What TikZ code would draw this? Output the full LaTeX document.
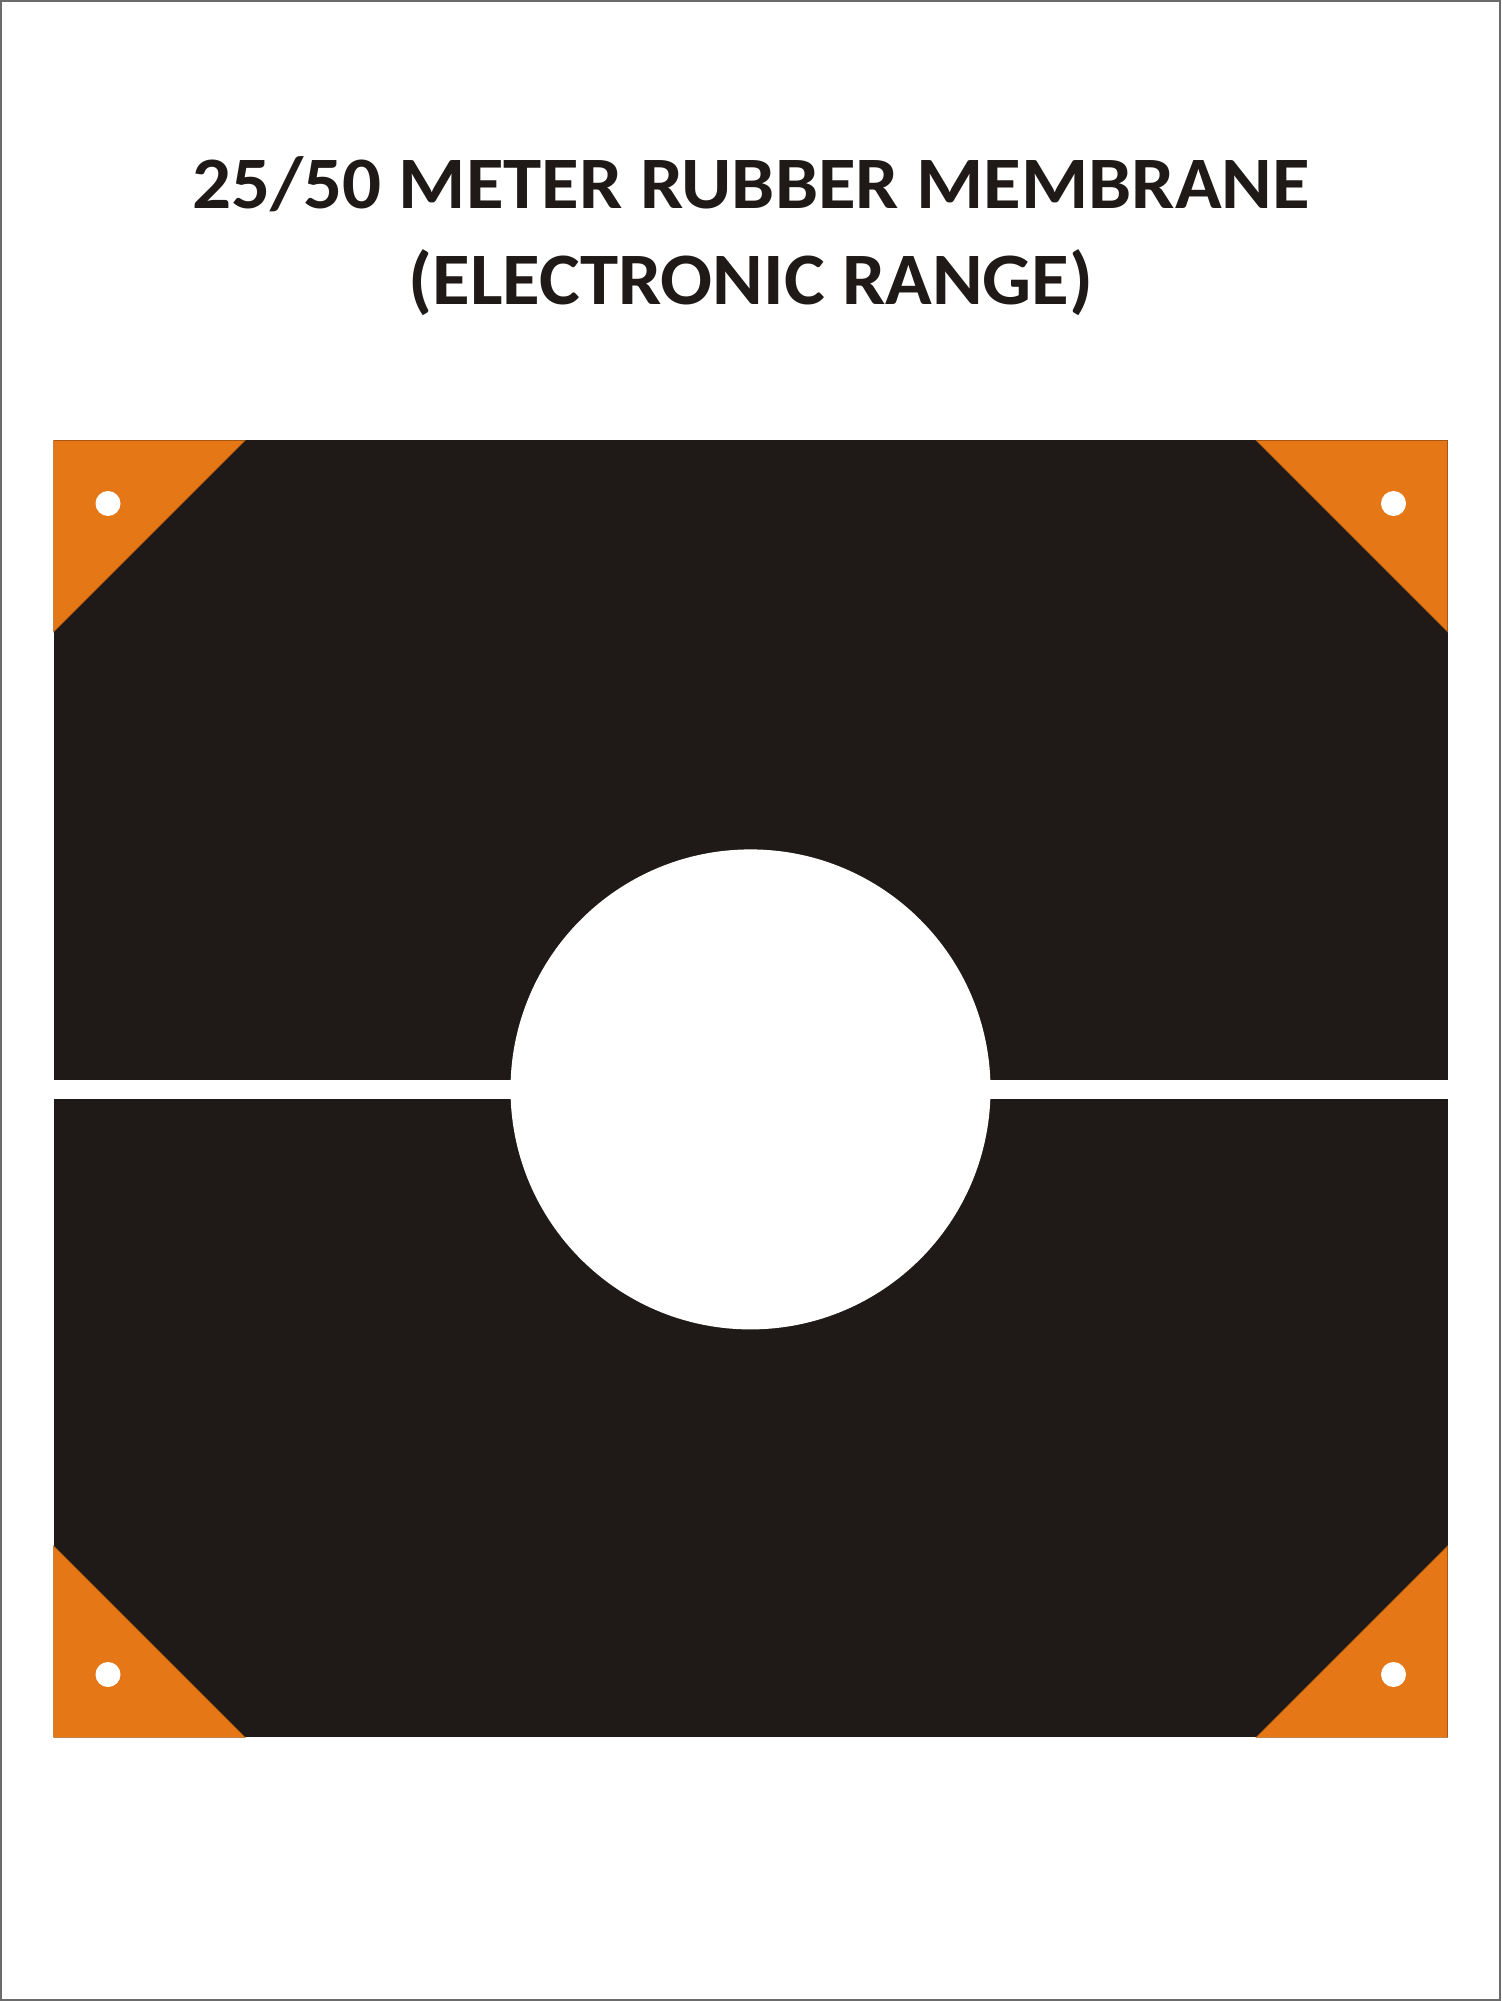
\documentclass[tikz,border=0pt]{standalone}
\usepackage{fontspec}
\setmainfont{Carlito}
\newfontfamily\titlefont[FakeStretch=1.04]{Carlito}
\definecolor{membrane}{HTML}{1F1A17}
\definecolor{flap}{HTML}{E57716}
\definecolor{frame}{HTML}{6B6B6B}
\begin{document}
\begin{tikzpicture}[x=0.5pt,y=-0.5pt]
        \tikzset{membrane/.style={fill=membrane,draw=none}}
        \tikzset{flapbox/.style={fill=flap,draw=flap!75!black,line width=0.3pt}}
        \tikzset{eyelet/.style={fill=white,draw=none}}
        \tikzset{titleline/.style={anchor=base,text=membrane,font=\titlefont\bfseries\fontsize{37}{47.5}\selectfont}}
        \useasboundingbox (0,0) rectangle (1501,2001);
        \draw[frame,line width=0.6pt] (1,1) rectangle (1500,2000);
        \node[titleline] (title1) at (751,209) {25/50 METER RUBBER MEMBRANE};
        \node[titleline] (title2) at (751,304) {(ELECTRONIC RANGE)};
        \fill[membrane] (53.6,440.4) rectangle (1447.6,1079.8);
        \fill[membrane] (53.6,1099) rectangle (1447.6,1737.4);
        \fill[white] (750.5,1089.4) circle (240);
        \draw[flapbox] (53.6,440.4) -- (245.1,440.4) -- (53.6,631.9) -- cycle;
        \draw[flapbox] (1447.6,440.4) -- (1256.1,440.4) -- (1447.6,631.9) -- cycle;
        \draw[flapbox] (53.6,1737.4) -- (245.1,1737.4) -- (53.6,1545.9) -- cycle;
        \draw[flapbox] (1447.6,1737.4) -- (1256.1,1737.4) -- (1447.6,1545.9) -- cycle;
        \foreach \hx/\hy in {108/503.5, 1393.5/503.5, 108/1674.5, 1393.5/1674.5}
                \fill[eyelet] (\hx,\hy) circle (12.5);
\end{tikzpicture}
\end{document}
